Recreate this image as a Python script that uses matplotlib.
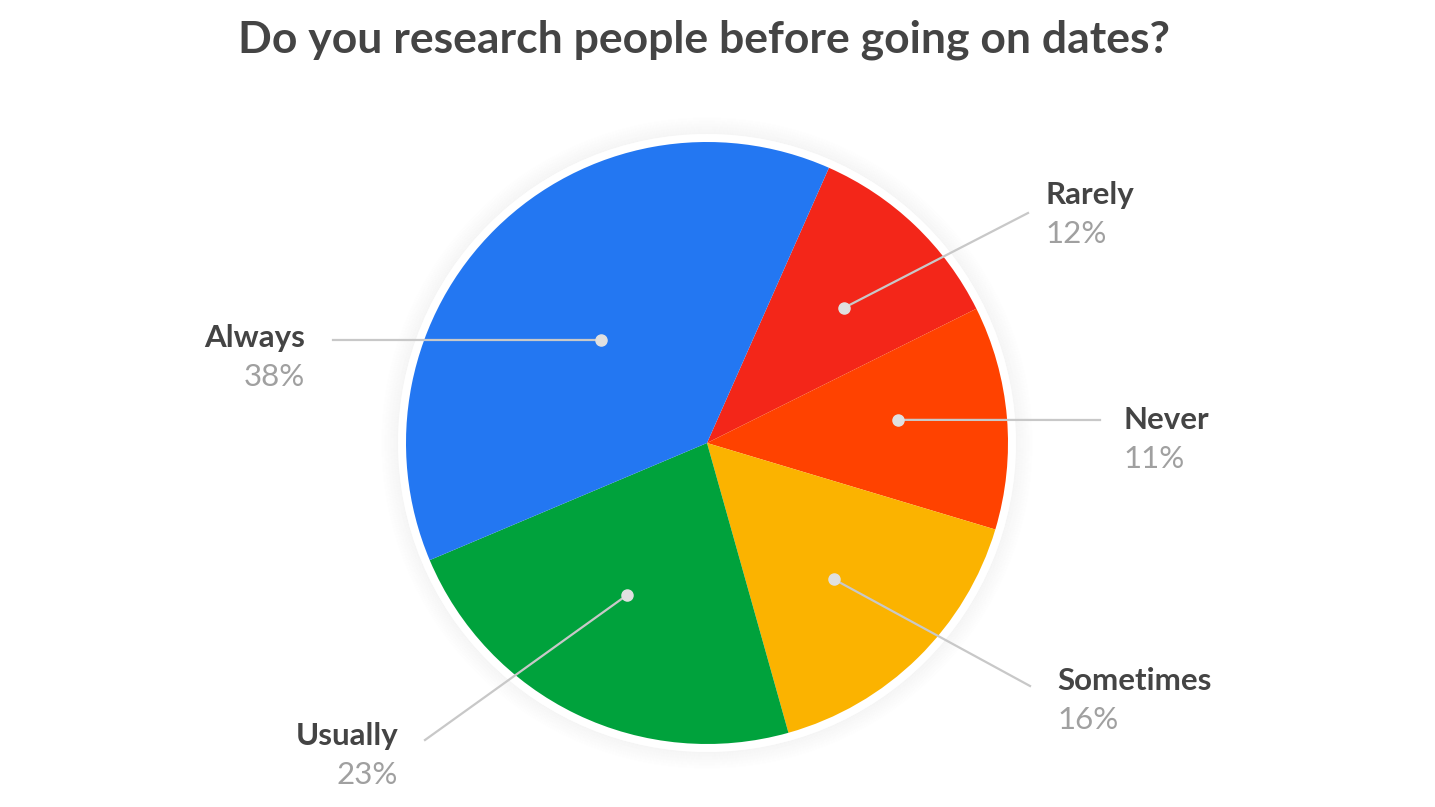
import numpy as np
import matplotlib
matplotlib.use("Agg")
import matplotlib.pyplot as plt
from matplotlib.patches import Circle

labels = ["Rarely", "Never", "Sometimes", "Usually", "Always"]
# wedge sizes as drawn in the source image (its Rarely/Never wedges don't match their labels)
shares = [11, 12, 16, 23, 38]
pct_labels = ["12%", "11%", "16%", "23%", "38%"]
colors = ["#f32619", "#ff4200", "#fbb300", "#00a23c", "#2377f2"]
title = "Do you research people before going on dates?"

# layout in pixels (y measured from top), converted below
W, H = 1435, 807
cx, cy, R = 707, 443, 301
dot_r = [0.64, 0.64, 0.62, 0.57, 0.49]
dot_shift = [-1.7, 2.0, -1.5, -2.0, 1.2]  # degrees, nudges the anchor dots
line_end = [(1028, 213), (1100, 420), (1030, 686), (425, 740), (333, 340)]
text_pos = [(1045, 195, "left"), (1123, 420, "left"), (1057, 681, "left"),
            (398, 736, "right"), (305, 338, "right")]

plt.rcParams["font.family"] = ["Lato", "DejaVu Sans"]

fig = plt.figure(figsize=(W / 100, H / 100), dpi=100)
ax = fig.add_axes([0, 0, 1, 1])

# soft shadow and white rim
for i in range(18):
    ax.add_patch(Circle((cx, H - cy), R + 8 + i, facecolor="none",
                        edgecolor="#000000", alpha=0.024 * (18 - i) / 18, lw=1.2, zorder=0))
ax.add_patch(Circle((cx, H - cy), R + 8, facecolor="white", edgecolor="none", zorder=1))

wedges, _ = ax.pie(shares, colors=colors, startangle=66.1, counterclock=False,
                   center=(cx, H - cy), radius=R, wedgeprops=dict(linewidth=0, zorder=2))

for w, fr, sh, (ex, ey), (tx, ty, ha), lab, pct in zip(wedges, dot_r, dot_shift, line_end,
                                                       text_pos, labels, pct_labels):
    ang = np.deg2rad((w.theta1 + w.theta2) / 2 + sh)
    dx = cx + fr * R * np.cos(ang)
    dy = (H - cy) + fr * R * np.sin(ang)
    ax.plot([dx, ex], [dy, H - ey], color="#c8c8c8", lw=1.6, zorder=3)
    ax.plot(dx, dy, "o", ms=8, color="#e0e0e0", zorder=4)
    ax.text(tx, H - ty, lab, ha=ha, va="center", fontsize=22.5, fontweight="bold", color="#444444")
    ax.text(tx, H - ty - 39, pct, ha=ha, va="center", fontsize=22.5, color="#a0a0a0")

ax.text(704, H - 40, title, ha="center", va="center", fontsize=32, fontweight="bold", color="#444444")

ax.set_xlim(0, W)
ax.set_ylim(0, H)
ax.set_aspect("equal")
ax.axis("off")
fig.savefig("out.png", dpi=100, facecolor="white")
